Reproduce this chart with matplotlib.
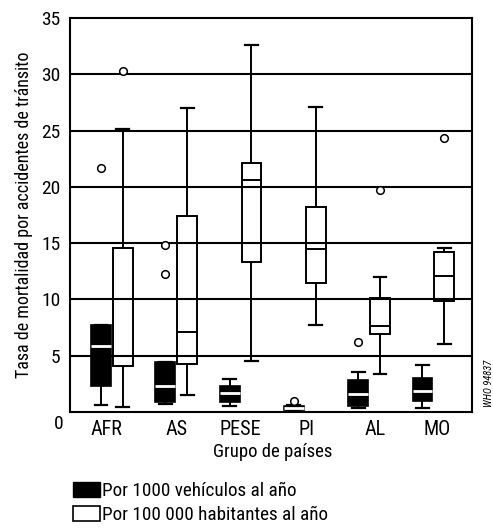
import matplotlib
matplotlib.use("Agg")
import matplotlib.pyplot as plt
from matplotlib.patches import Patch
import matplotlib.transforms as mtransforms
from matplotlib import font_manager as fm

# pick a condensed sans if available
_fonts = fm.fontManager.ttflist
_names = {f.name for f in _fonts}
_fam = None
_stretch = 'normal'
for cand in ['Liberation Sans Narrow', 'Arial Narrow', 'Roboto Condensed',
             'Open Sans Condensed', 'Noto Sans Display']:
    if cand in _names:
        _fam = cand
        break
if _fam is None:
    cond = [f for f in _fonts if f.name == 'DejaVu Sans' and str(f.stretch) in ('condensed', 'semi-condensed', '75', '87.5')]
    if cond:
        _fam = 'DejaVu Sans'
        _stretch = 'condensed'
if _fam is None:
    _fam = 'Liberation Sans'
plt.rcParams['font.family'] = [_fam, 'DejaVu Sans']
plt.rcParams['font.stretch'] = _stretch

categories = ["AFR", "AS", "PESE", "PI", "AL", "MO"]

# Por 1000 vehículos al año (black boxes)
veh_whislo = [0.6, 0.7, 0.5, 0.1, 0.35, 0.35]
veh_q1     = [2.3, 0.9, 0.9, 0.2, 0.5, 1.0]
veh_med    = [5.9, 2.3, 1.7, 0.35, 1.6, 1.9]
veh_q3     = [7.7, 4.4, 2.3, 0.5, 2.8, 3.0]
veh_whishi = [7.7, 4.4, 2.9, 0.6, 3.55, 4.2]
veh_fliers = [[21.7], [14.8, 12.3], [], [1.0], [6.2], []]

# Por 100 000 habitantes al año (white boxes)
hab_whislo = [0.45, 1.5, 4.5, 7.7, 3.4, 6.0]
hab_q1     = [4.1, 4.3, 13.3, 11.5, 6.9, 9.9]
hab_med    = [5.0, 7.1, 20.6, 14.5, 7.6, 12.1]
hab_q3     = [14.6, 17.4, 22.1, 18.2, 10.1, 14.2]
hab_whishi = [25.1, 27.0, 32.6, 27.1, 12.0, 14.6]
hab_fliers = [[30.3], [], [], [], [19.7], [24.3]]

yticks = [5, 10, 15, 20, 25, 30, 35]

fig = plt.figure(figsize=(4.93, 5.31), dpi=100)
ax = fig.add_axes([0.142, 0.2241, 0.8154, 0.742])

def stats(wl, q1, med, q3, wh, fl):
    return [dict(whislo=a, q1=b, med=c, q3=d, whishi=e, fliers=f)
            for a, b, c, d, e, f in zip(wl, q1, med, q3, wh, fl)]

pos = list(range(len(categories)))
off = 0.17
w = 0.31
label_shift = [-0.08, 0.0, 0.0, 0.03, 0.1, 0.05]

flierprops = dict(marker='o', markerfacecolor='white', markeredgecolor='black',
                  markersize=5.5, markeredgewidth=1.1, linestyle='none')

ax.bxp(stats(veh_whislo, veh_q1, veh_med, veh_q3, veh_whishi, veh_fliers),
       positions=[p - off for p in pos], widths=w, patch_artist=True,
       boxprops=dict(facecolor='black', edgecolor='black', linewidth=1.2),
       medianprops=dict(color='white', linewidth=2.0),
       whiskerprops=dict(color='black', linewidth=1.4),
       capprops=dict(color='black', linewidth=1.6), capwidths=0.2,
       flierprops=flierprops, zorder=3)

ax.bxp(stats(hab_whislo, hab_q1, hab_med, hab_q3, hab_whishi, hab_fliers),
       positions=[p + off for p in pos], widths=w, patch_artist=True,
       boxprops=dict(facecolor='none', edgecolor='black', linewidth=1.4),
       medianprops=dict(color='black', linewidth=1.4),
       whiskerprops=dict(color='black', linewidth=1.4),
       capprops=dict(color='black', linewidth=1.6), capwidths=0.2,
       flierprops=flierprops, zorder=3)

ax.set_xlim(-0.653, 5.6)
ax.set_ylim(0, 35)
ax.set_yticks(yticks)
ax.set_yticklabels([str(v) for v in yticks], fontsize=14)
ax.set_xticks([p + s for p, s in zip(pos, label_shift)])
ax.set_xticklabels(categories, fontsize=14.5)
ax.tick_params(axis='both', length=0)
ax.tick_params(axis='y', pad=7)
ax.tick_params(axis='x', pad=6)
for v in yticks[:-1]:
    ax.axhline(v, color='black', linewidth=1.5, zorder=2)
for s in ax.spines.values():
    s.set_linewidth(1.5)

trans = mtransforms.blended_transform_factory(ax.transAxes, ax.transData)
ax.text(-0.017, -0.3, "0", transform=trans, ha='right', va='top', fontsize=14)

ax.set_ylabel("Tasa de mortalidad por accidentes de tránsito", fontsize=13, labelpad=6)
fig.text(273 / 493, 1 - 452 / 531, "Grupo de países", ha='center', va='center', fontsize=13.5)

handles = [Patch(facecolor='black', edgecolor='black', label='Por 1000 vehículos al año'),
           Patch(facecolor='white', edgecolor='black', linewidth=1.2,
                 label='Por 100 000 habitantes al año')]
fig.legend(handles=handles, loc='upper left', bbox_to_anchor=(65 / 493, 1 - 474 / 531),
           frameon=False, fontsize=13.8, handlelength=1.4, handleheight=0.85,
           handletextpad=0.12, labelspacing=0.3, borderaxespad=0)

fig.text(489 / 493, 1 - 383 / 531, "WHO 94837", rotation=90, ha='center', va='center',
         fontsize=7.5, style='italic')

fig.savefig("out.png", dpi=100)
